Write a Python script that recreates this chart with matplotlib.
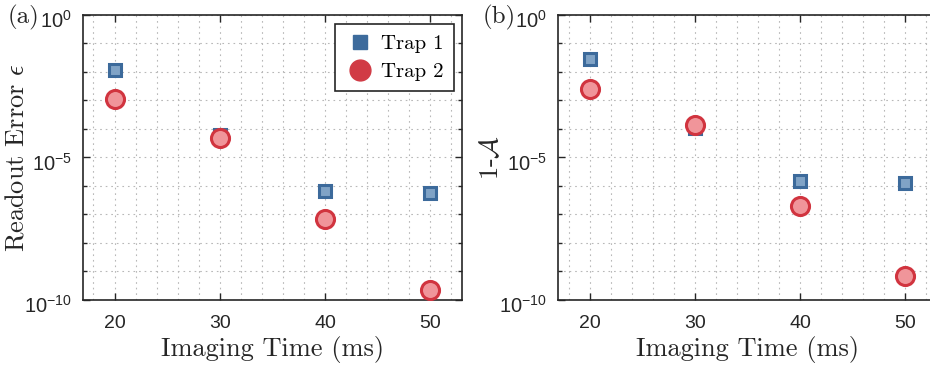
import numpy as np
import matplotlib
matplotlib.use('Agg')
import matplotlib.pyplot as plt
import matplotlib.transforms as mtransforms
from matplotlib.ticker import FixedLocator, FixedFormatter, MultipleLocator
from matplotlib.lines import Line2D

plt.rcParams['mathtext.fontset'] = 'custom'
plt.rcParams['mathtext.rm'] = 'Liberation Sans'
plt.rcParams['mathtext.it'] = 'Liberation Sans:italic'
plt.rcParams['font.family'] = 'Liberation Sans'

# data
times = [20, 30, 40, 50]
readout_trap1 = [1.2e-2, 6.0e-5, 6.9e-7, 5.6e-7]
readout_trap2 = [1.15e-3, 4.8e-5, 7.0e-8, 2.3e-10]
infid_trap1 = [2.9e-2, 1.1e-4, 1.45e-6, 1.25e-6]
infid_trap2 = [2.5e-3, 1.4e-4, 2.0e-7, 6.9e-10]

ytick_vals = [1e-10, 1e-5, 1e0]
ytick_labels = [r'$10^{-10}$', r'$10^{-5}$', r'$10^{0}$']
xtick_vals = [20, 30, 40, 50]

blue_edge, blue_face = '#3c6a9b', '#80a3c6'
red_edge, red_face = '#d1343f', '#f0959a'
ink = '#262626'

fig = plt.figure(figsize=(9.3, 3.74), dpi=100)
ax_a = fig.add_axes([0.0892, 0.198, 0.4075, 0.762])
ax_b = fig.add_axes([0.600, 0.198, 0.4075, 0.762])

serif = dict(family='cmr10', math_fontfamily='cm')


def style(ax, t1, t2, ylabel, tag):
    ax.plot(times, t1, 's', ms=8, mfc=blue_face, mec=blue_edge, mew=2.2, zorder=3)
    ax.plot(times, t2, 'o', ms=13, mfc=red_face, mec=red_edge, mew=2.2, zorder=4)
    ax.set_yscale('log')
    ax.set_xlim(17, 53)
    ax.set_ylim(1e-10, 1e0)
    ax.xaxis.set_major_locator(FixedLocator(xtick_vals))
    ax.xaxis.set_minor_locator(MultipleLocator(2))
    ax.yaxis.set_major_locator(FixedLocator(ytick_vals))
    ax.yaxis.set_major_formatter(FixedFormatter(ytick_labels))
    ax.yaxis.set_minor_locator(FixedLocator(10.0 ** np.arange(-10, 1)))
    ax.yaxis.set_minor_formatter(FixedFormatter([''] * 11))
    ax.grid(which='both', linestyle=(0, (1.5, 3.5)), color='#b8b8b8', linewidth=0.8)
    ax.tick_params(which='both', direction='in', top=True, right=True,
                   colors=ink, width=1.0)
    ax.tick_params(axis='x', which='major', labelsize=14, pad=11)
    ax.tick_params(axis='y', which='major', labelsize=14.5, pad=8)
    ax.tick_params(which='major', length=5)
    ax.tick_params(which='minor', length=3)
    ax.tick_params(axis='x', which='minor', length=0)
    for s in ax.spines.values():
        s.set_color(ink)
        s.set_linewidth(1.2)
    ax.set_xlabel('Imaging Time (ms)', fontsize=19, color=ink, labelpad=3, **serif)
    ax.set_ylabel(ylabel, fontsize=19, color=ink, **serif)
    ax.yaxis.set_label_coords(-0.145, 0.5)
    ax.text(-0.198, 0.99, tag, transform=ax.transAxes, fontsize=18, color=ink,
            ha='left', va='center', **serif)


style(ax_a, readout_trap1, readout_trap2, r'Readout Error $\epsilon$', '(a)')
style(ax_b, infid_trap1, infid_trap2, r'1-$\mathcal{A}$', '(b)')

handles = [Line2D([], [], marker='s', ls='', ms=10, color='#3d6b9c'),
           Line2D([], [], marker='o', ls='', ms=15, color='#d13b45')]
leg = ax_a.legend(handles, ['Trap 1', 'Trap 2'], loc='upper right',
                  bbox_to_anchor=(0.979, 0.968), borderaxespad=0, fancybox=False,
                  framealpha=1, edgecolor=ink, prop={'family': 'cmr10', 'size': 15},
                  handletextpad=0.3, borderpad=0.5, labelspacing=0.45, handlelength=1.4)
leg.get_frame().set_linewidth(1.2)

# nudge y tick labels down so the base of 10^n sits on the tick
fig.canvas.draw()
shift = mtransforms.ScaledTranslation(0, -4 / 100, fig.dpi_scale_trans)
for ax in (ax_a, ax_b):
    for lab in ax.get_yticklabels():
        lab.set_transform(lab.get_transform() + shift)

fig.savefig('out.png', dpi=100)
